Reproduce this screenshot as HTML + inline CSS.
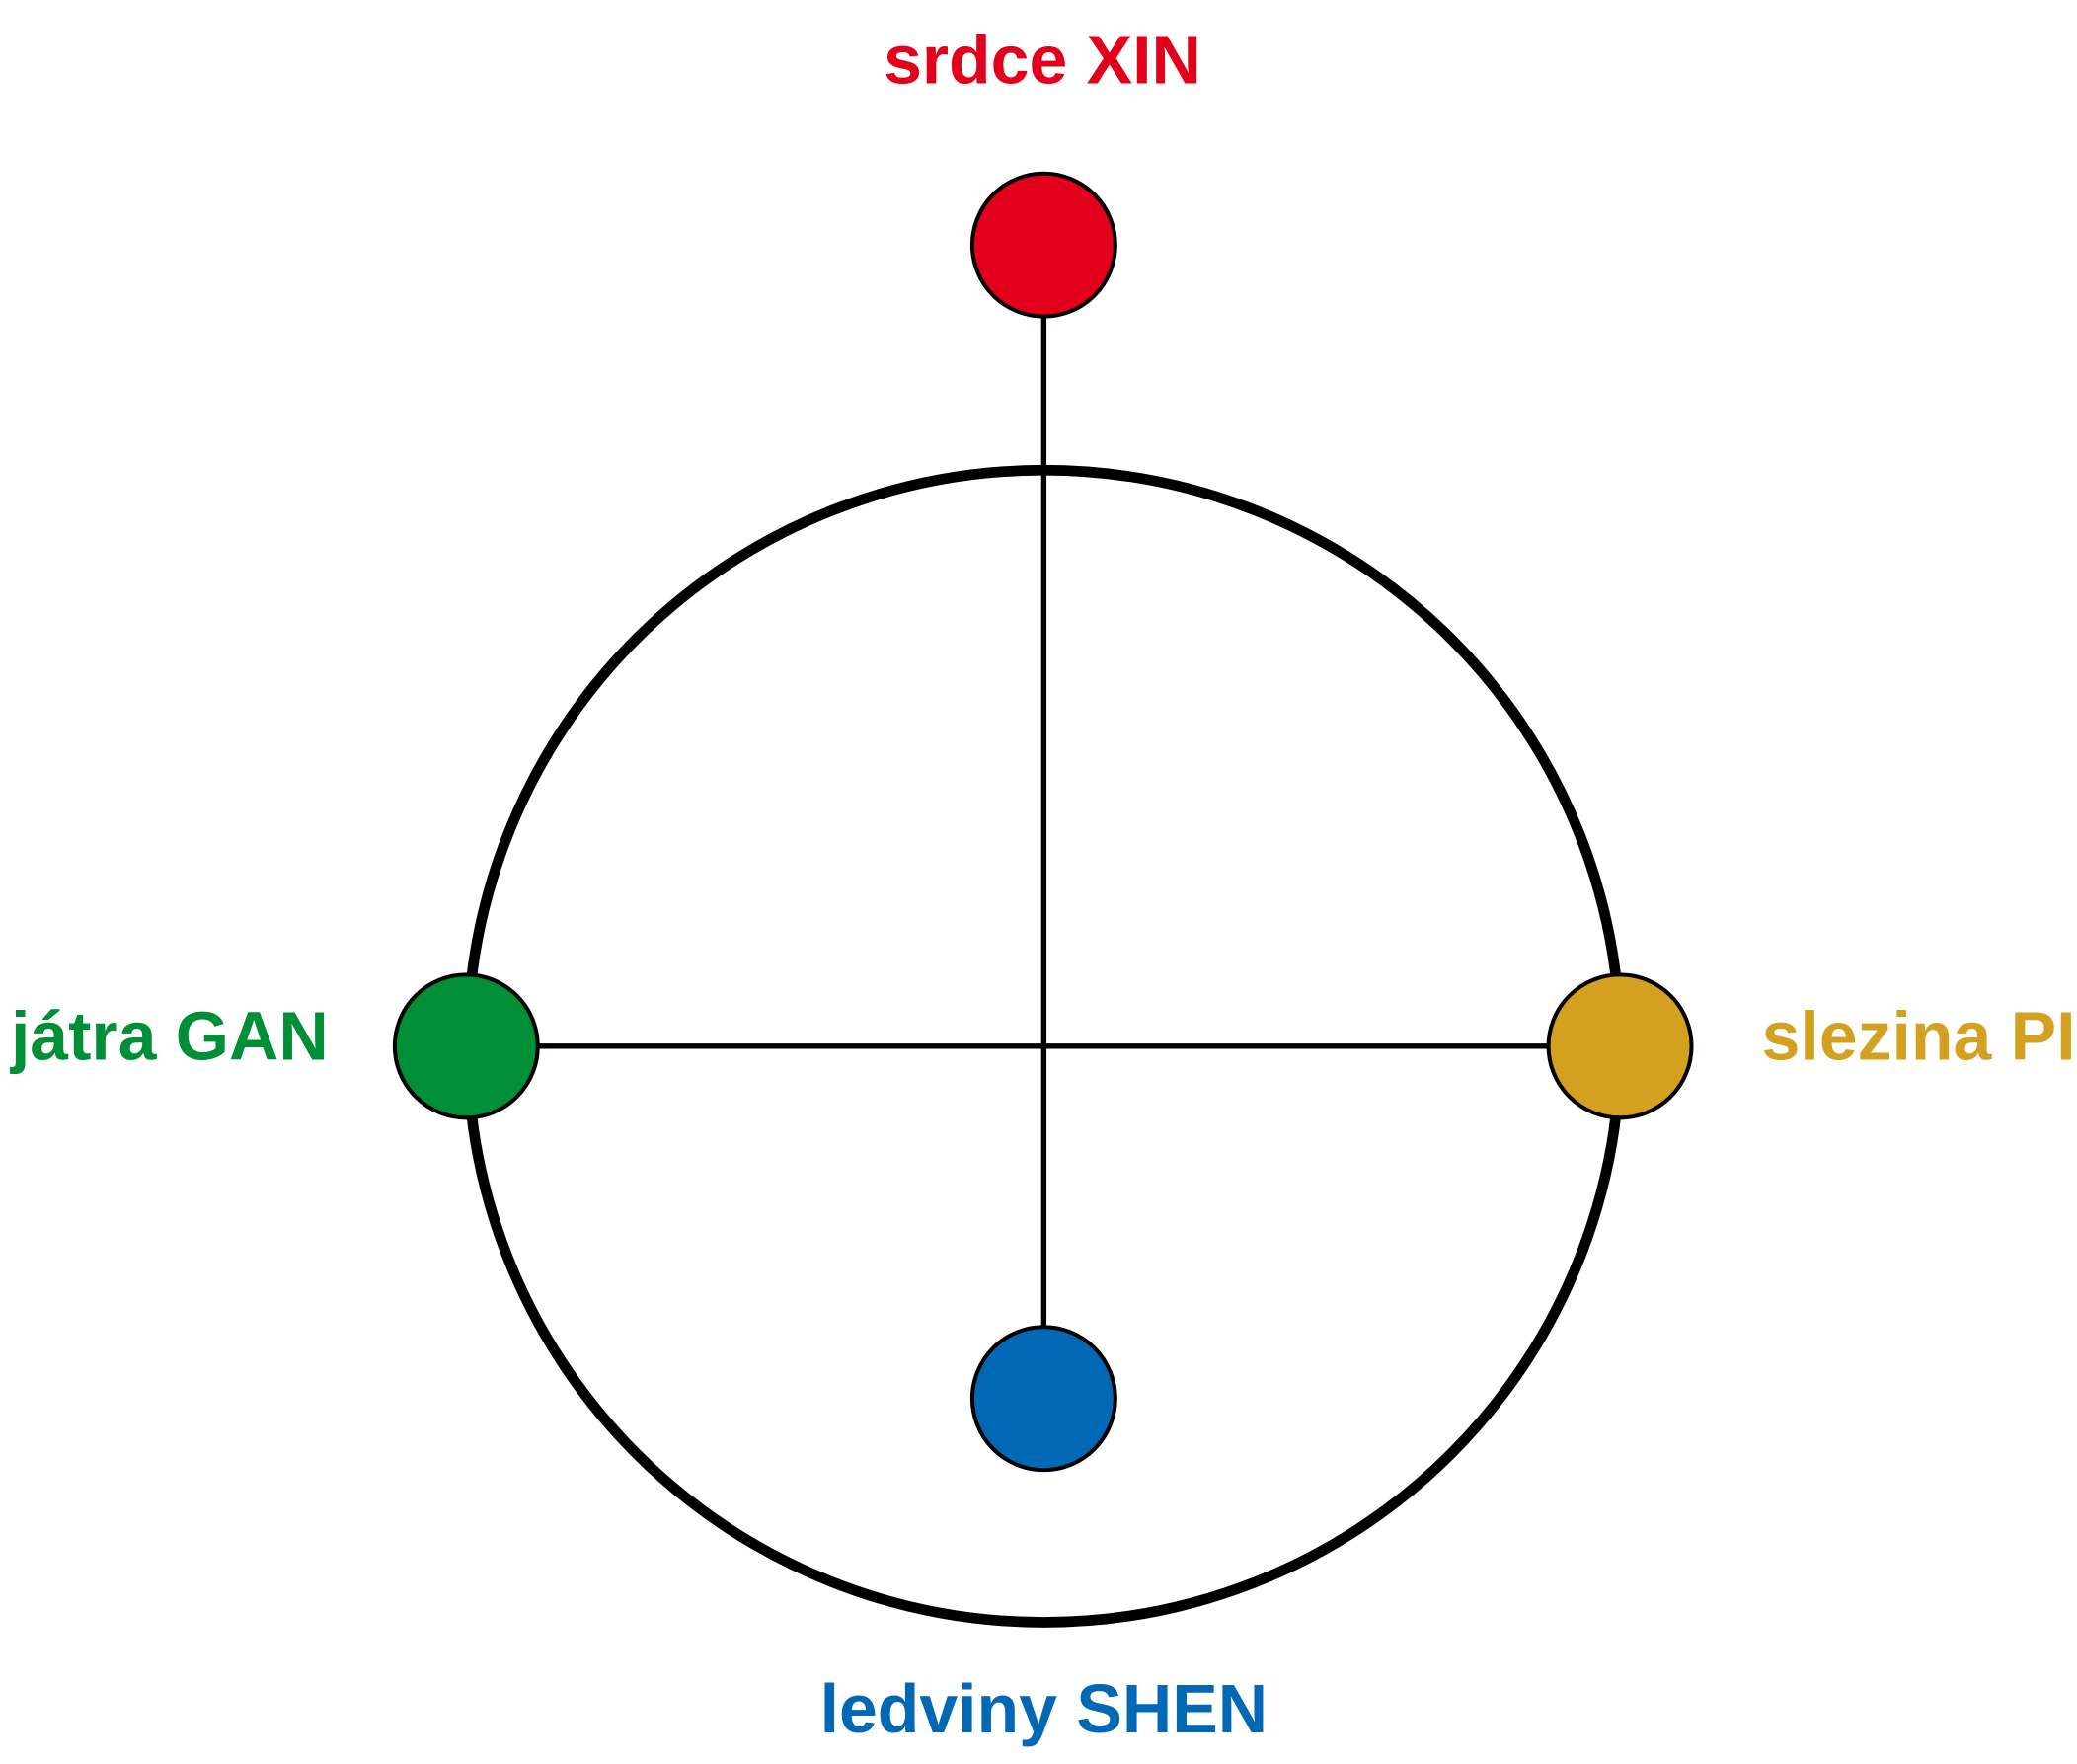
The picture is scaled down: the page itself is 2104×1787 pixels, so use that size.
<!DOCTYPE html>
<html><head><meta charset="utf-8"><style>
html,body{margin:0;padding:0;background:#fff;}
svg{display:block;}
text{font-family:"Liberation Sans",sans-serif;font-weight:bold;}
</style></head><body>
<svg width="2104" height="1787" viewBox="0 0 1568 1332" preserveAspectRatio="none" xmlns="http://www.w3.org/2000/svg">
<rect width="1568" height="1332" fill="#fff"/>
<circle cx="788" cy="790" r="435" fill="none" stroke="#000" stroke-width="8"/>
<line x1="788" y1="238" x2="788" y2="1004" stroke="#000" stroke-width="4"/>
<line x1="404" y1="790" x2="1172" y2="790" stroke="#000" stroke-width="4"/>
<circle cx="788" cy="185" r="54" fill="#e2001a" stroke="#000" stroke-width="3"/>
<circle cx="352" cy="790" r="54" fill="#008f36" stroke="#000" stroke-width="3"/>
<circle cx="1223" cy="790" r="54" fill="#d4a020" stroke="#000" stroke-width="3"/>
<circle cx="788" cy="1056" r="54" fill="#0068b4" stroke="#000" stroke-width="3"/>
<text x="787" y="63" font-size="52" fill="#e2001a" text-anchor="middle">srdce XIN</text>
<text x="248" y="800" font-size="52" fill="#008f36" text-anchor="end">játra GAN</text>
<text x="1330" y="800" font-size="52" fill="#d4a020">slezina PI</text>
<text x="788" y="1308" font-size="52" fill="#0068b4" text-anchor="middle">ledviny SHEN</text>
</svg>
</body></html>
